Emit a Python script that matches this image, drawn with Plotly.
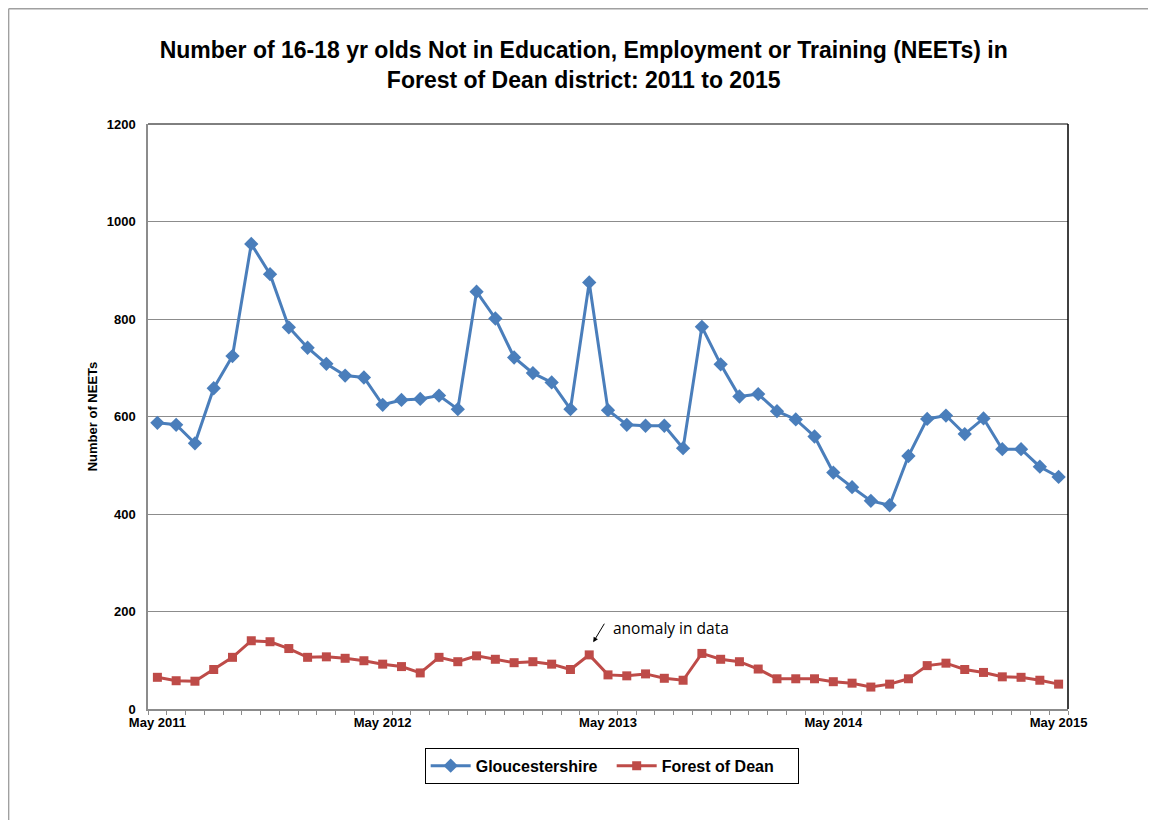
import pandas as pd
from plotly import graph_objs as go

# monthly categories, May 2011 .. May 2015
months = pd.date_range("2011-05-01", "2015-05-01", freq="MS").strftime("%b %Y").tolist()
tick_months = ["May 2011", "May 2012", "May 2013", "May 2014", "May 2015"]

gloucestershire = [
    587, 583, 545, 658, 724, 954, 892, 783, 741, 708,
    684, 680, 624, 634, 636, 643, 615, 856, 801, 721,
    689, 670, 615, 875, 613, 583, 581, 581, 535, 784,
    707, 641, 646, 611, 594, 559, 485, 455, 427, 418,
    519, 595, 602, 564, 596, 533, 533, 497, 476,
]
forest_of_dean = [
    65, 58, 57, 81, 106, 140, 138, 124, 106, 107,
    104, 99, 92, 87, 74, 106, 97, 109, 102, 95,
    97, 92, 81, 111, 70, 68, 72, 63, 59, 114,
    102, 97, 82, 62, 62, 62, 56, 53, 45, 51,
    62, 89, 94, 81, 75, 66, 65, 59, 51,
]

BLUE = "#4A7EBB"
RED = "#BE4B48"
GRID = "#8C8C8C"
FONT = "Liberation Sans"

fig = go.Figure()
fig.add_trace(
    go.Scatter(
        x=months,
        y=gloucestershire,
        name="Gloucestershire",
        mode="lines+markers",
        line=dict(color=BLUE, width=3),
        marker=dict(symbol="diamond", size=11, color=BLUE),
    )
)
fig.add_trace(
    go.Scatter(
        x=months,
        y=forest_of_dean,
        name="Forest of Dean",
        mode="lines+markers",
        line=dict(color=RED, width=3),
        marker=dict(symbol="square", size=9, color=RED),
    )
)

# arrow + note on the April 2013 point
fig.add_annotation(
    x=months[23], y=137, xshift=4, text="", showarrow=True,
    arrowhead=2, arrowsize=1, arrowwidth=1, arrowcolor="black", ax=12, ay=-20,
)
fig.add_annotation(
    x=months[24], y=166, xshift=3, text="anomaly in data", showarrow=False,
    xanchor="left", yanchor="middle", font=dict(family="Open Sans", size=15.5, color="black"),
)

# outer frame (left and top edges only) and black plot border top/right
fig.add_shape(type="line", xref="paper", yref="paper", x0=-0.1515, x1=-0.1515, y0=-0.25, y1=1.197,
              line=dict(color="#A0A0A0", width=1.5))
fig.add_shape(type="line", xref="paper", yref="paper", x0=-0.1515, x1=1.2, y0=1.197, y1=1.197,
              line=dict(color="#A0A0A0", width=1.5))
fig.add_shape(type="line", xref="paper", yref="paper", x0=0, x1=1, y0=1, y1=1,
              line=dict(color="black", width=1))
fig.add_shape(type="line", xref="paper", yref="paper", x0=1, x1=1, y0=0, y1=1,
              line=dict(color="black", width=1.5))

# the page adds ~8px of body margin, so the figure is kept a little smaller
fig.update_layout(
    width=1140,
    height=812,
    margin=dict(l=140, r=80, t=116, b=111),
    paper_bgcolor="white",
    plot_bgcolor="white",
    font=dict(family=FONT, color="black"),
    title=dict(
        text="Number of 16-18 yr olds Not in Education, Employment or Training (NEETs) in<br>"
             "Forest of Dean district: 2011 to 2015",
        x=0.505, xanchor="center", y=0.938, yanchor="middle",
        font=dict(family=FONT, size=23, weight="bold", color="black"),
    ),
    legend=dict(
        orientation="h",
        x=0.504, xanchor="center",
        y=-0.097, yanchor="middle",
        bordercolor="black", borderwidth=1,
        font=dict(family=FONT, size=16, weight="bold", color="black"),
        itemwidth=40,
        entrywidth=131,
    ),
    showlegend=True,
)

fig.update_xaxes(
    type="category",
    categoryorder="array",
    categoryarray=months,
    tickmode="array",
    tickvals=months,
    ticktext=[m if m in tick_months else "" for m in months],
    tickangle=0,
    tickson="boundaries",
    ticks="outside",
    ticklen=4,
    tickcolor=GRID,
    showgrid=False,
    showline=True,
    linecolor=GRID,
    linewidth=2,
    tickfont=dict(family=FONT, size=13, weight="bold"),
    range=[-0.5, len(months) - 0.5],
)
fig.update_yaxes(
    range=[0, 1200],
    dtick=200,
    showgrid=True,
    gridcolor=GRID,
    gridwidth=1,
    showline=True,
    linecolor=GRID,
    linewidth=1.5,
    zeroline=False,
    ticklabelstandoff=8,
    tickfont=dict(family=FONT, size=13, weight="bold"),
    title=dict(text="Number of NEETs", font=dict(family=FONT, size=13, weight="bold"), standoff=6),
)

fig.write_html("out.html")
